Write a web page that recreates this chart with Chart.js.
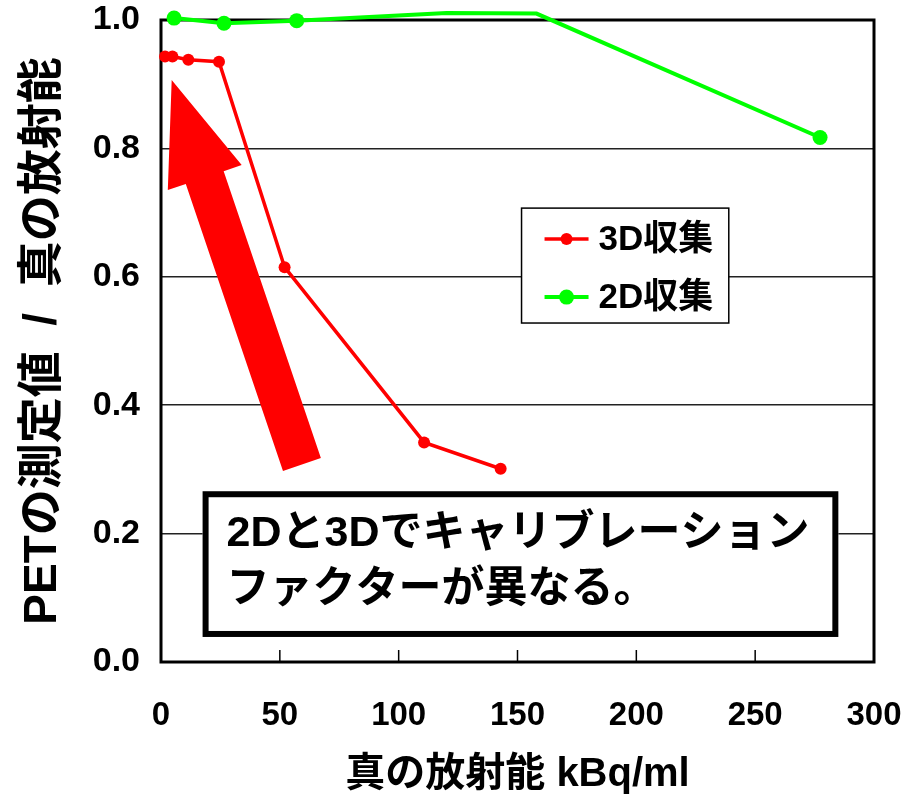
<!DOCTYPE html>
<html>
<head>
<meta charset="utf-8">
<script src="https://cdn.jsdelivr.net/npm/chart.js@4.4.0/dist/chart.umd.min.js"></script>
<style>
  html, body { margin: 0; padding: 0; background: #fff; }
  #wrap { width: 904px; height: 799px; }
</style>
</head>
<body>
<div id="wrap"><canvas id="chart" width="904" height="799"></canvas></div>
<script>
// --- data ---
const SERIES_LABELS = ['3D収集', '2D収集'];
const X_3D = [1.7, 4.8, 11.5, 24.4, 52.0, 110.7, 142.9];
const Y_3D = [0.943, 0.943, 0.938, 0.935, 0.615, 0.342, 0.301];
const X_2D = [5.5, 26.5, 57.1, 120.2, 158.0, 277.3];
const Y_2D = [1.003, 0.995, 0.999, 1.011, 1.010, 0.817];
const X_TICKS = [0, 50, 100, 150, 200, 250, 300];
const Y_TICKS = [0.0, 0.2, 0.4, 0.6, 0.8, 1.0];
const X_TITLE = '真の放射能 kBq/ml';
const Y_TITLE = 'PETの測定値  /  真の放射能';
const NOTE_LINES = ['2Dと3Dでキャリブレーション', 'ファクターが異なる。'];

const SANS = "'Liberation Sans', Arial, 'Noto Sans CJK JP', sans-serif";

function toPoints(xs, ys) {
    return xs.map(function (x, i) { return { x: x, y: ys[i] }; });
}

// markers above the plot top are hidden, like the original
function markerRadius(r) {
    return function (ctx) {
        return ctx.raw && ctx.raw.y > 1.005 ? 0 : r;
    };
}

// arrow, plot frame, inner ticks
const framePlugin = {
    id: 'frame',
    beforeDatasetsDraw: function (chart) {
        const ctx = chart.ctx;
        const a = chart.chartArea;
        const x = chart.scales.x, y = chart.scales.y;
        ctx.save();

        // big red arrow pointing up-left
        const tx = x.getPixelForValue(4.5), ty = y.getPixelForValue(0.9065);
        const bx = x.getPixelForValue(59.3), by = y.getPixelForValue(0.3076);
        const len = Math.hypot(bx - tx, by - ty);
        const ux = (bx - tx) / len, uy = (by - ty) / len;
        const px = -uy, py = ux;
        const headLen = 103, headHalf = 39, shaftHalf = 20;
        const hx = tx + ux * headLen, hy = ty + uy * headLen;
        ctx.fillStyle = '#ff0000';
        ctx.beginPath();
        ctx.moveTo(tx, ty);
        ctx.lineTo(hx + px * headHalf, hy + py * headHalf);
        ctx.lineTo(hx + px * shaftHalf, hy + py * shaftHalf);
        ctx.lineTo(bx + px * shaftHalf, by + py * shaftHalf);
        ctx.lineTo(bx - px * shaftHalf, by - py * shaftHalf);
        ctx.lineTo(hx - px * shaftHalf, hy - py * shaftHalf);
        ctx.lineTo(hx - px * headHalf, hy - py * headHalf);
        ctx.closePath();
        ctx.fill();

        // inner tick marks on the x axis
        ctx.strokeStyle = '#000';
        ctx.lineWidth = 1.5;
        X_TICKS.forEach(function (v) {
            if (v <= X_TICKS[0] || v >= X_TICKS[X_TICKS.length - 1]) return;
            const p = x.getPixelForValue(v);
            ctx.beginPath();
            ctx.moveTo(p, a.bottom);
            ctx.lineTo(p, a.bottom - 12);
            ctx.stroke();
        });

        // plot area border
        ctx.lineWidth = 3;
        ctx.strokeRect(a.left, a.top, a.right - a.left, a.bottom - a.top);
        ctx.restore();
    },
    afterDatasetsDraw: function (chart) {
        const ctx = chart.ctx;
        const x = chart.scales.x, y = chart.scales.y;
        ctx.save();

        // legend box
        const lx0 = x.getPixelForValue(151.7), lx1 = x.getPixelForValue(238.9);
        const ly0 = y.getPixelForValue(0.707), ly1 = y.getPixelForValue(0.528);
        ctx.fillStyle = '#fff';
        ctx.fillRect(lx0, ly0, lx1 - lx0, ly1 - ly0);
        ctx.strokeStyle = '#000';
        ctx.lineWidth = 1.5;
        ctx.strokeRect(lx0, ly0, lx1 - lx0, ly1 - ly0);
        const rowY = [ly0 + 31, ly0 + 89];
        chart.data.datasets.forEach(function (ds, i) {
            const cy = rowY[i];
            ctx.strokeStyle = ds.borderColor;
            ctx.lineWidth = ds.borderWidth;
            ctx.beginPath();
            ctx.moveTo(lx0 + 23, cy);
            ctx.lineTo(lx0 + 67, cy);
            ctx.stroke();
            ctx.fillStyle = ds.pointBackgroundColor;
            ctx.beginPath();
            ctx.arc(lx0 + 45, cy, ds.legendRadius, 0, Math.PI * 2);
            ctx.fill();
            ctx.fillStyle = '#000';
            ctx.font = 'bold 35px ' + SANS;
            ctx.textAlign = 'left';
            ctx.textBaseline = 'middle';
            ctx.fillText(ds.label, lx0 + 77, cy + 1);
        });

        // note box
        const nx0 = x.getPixelForValue(17.5), nx1 = x.getPixelForValue(285);
        const ny0 = y.getPixelForValue(0.266), ny1 = y.getPixelForValue(0.039);
        ctx.fillStyle = '#fff';
        ctx.fillRect(nx0, ny0, nx1 - nx0, ny1 - ny0);
        ctx.strokeStyle = '#000';
        ctx.lineWidth = 6;
        ctx.strokeRect(nx0 + 3, ny0 + 3, nx1 - nx0 - 6, ny1 - ny0 - 6);
        ctx.fillStyle = '#000';
        ctx.font = 'bold 43px ' + SANS;
        ctx.textAlign = 'left';
        ctx.textBaseline = 'middle';
        NOTE_LINES.forEach(function (t, i) {
            ctx.fillText(t, nx0 + 24, ny0 + 43 + i * 56);
        });
        ctx.restore();
    }
};

new Chart(document.getElementById('chart').getContext('2d'), {
    type: 'line',
    data: {
        datasets: [{
            label: SERIES_LABELS[0],
            data: toPoints(X_3D, Y_3D),
            borderColor: '#ff0000',
            backgroundColor: '#ff0000',
            pointBackgroundColor: '#ff0000',
            pointBorderWidth: 0,
            borderWidth: 3.5,
            pointRadius: 6,
            legendRadius: 6,
            tension: 0,
            clip: false
        }, {
            label: SERIES_LABELS[1],
            data: toPoints(X_2D, Y_2D),
            borderColor: '#00ff00',
            backgroundColor: '#00ff00',
            pointBackgroundColor: '#00ff00',
            pointBorderWidth: 0,
            borderWidth: 4,
            pointRadius: markerRadius(7.5),
            legendRadius: 7.5,
            tension: 0,
            clip: false
        }]
    },
    options: {
        responsive: false,
        animation: false,
        devicePixelRatio: 1,
        layout: { padding: { left: 0, right: 30, top: 20, bottom: 0 } },
        plugins: {
            legend: { display: false },
            tooltip: { enabled: false }
        },
        scales: {
            x: {
                type: 'linear',
                min: X_TICKS[0],
                max: X_TICKS[X_TICKS.length - 1],
                afterBuildTicks: function (scale) {
                    scale.ticks = X_TICKS.map(function (v) { return { value: v }; });
                },
                afterFit: function (scale) {
                    scale.height = 137;
                    scale.paddingLeft = 0;
                    scale.paddingRight = 0;
                },
                grid: { display: false, drawTicks: false },
                border: { display: false },
                ticks: {
                    padding: 34,
                    color: '#000',
                    font: { family: SANS, size: 33, weight: 'bold', lineHeight: 1.2 },
                    callback: function (v) { return String(v); }
                },
                title: {
                    display: true,
                    text: X_TITLE,
                    color: '#000',
                    padding: { top: 0, bottom: 0 },
                    font: { family: SANS, size: 40, weight: 'bold', lineHeight: 1.2 }
                }
            },
            y: {
                min: Y_TICKS[0],
                max: Y_TICKS[Y_TICKS.length - 1],
                afterBuildTicks: function (scale) {
                    scale.ticks = Y_TICKS.map(function (v) { return { value: v }; });
                },
                afterFit: function (scale) {
                    scale.width = 161;
                    scale.paddingTop = 0;
                    scale.paddingBottom = 0;
                },
                grid: { color: '#222', lineWidth: 1.5, drawTicks: false },
                border: { display: false },
                ticks: {
                    padding: 21,
                    color: '#000',
                    font: { family: SANS, size: 34, weight: 'bold', lineHeight: 1.2 },
                    callback: function (v) { return v.toFixed(1); }
                },
                title: {
                    display: true,
                    text: Y_TITLE,
                    color: '#000',
                    padding: { top: 16, bottom: 0 },
                    font: { family: SANS, size: 46, weight: 'bold', lineHeight: 1.2 }
                }
            }
        }
    },
    plugins: [framePlugin]
});
</script>
</body>
</html>
